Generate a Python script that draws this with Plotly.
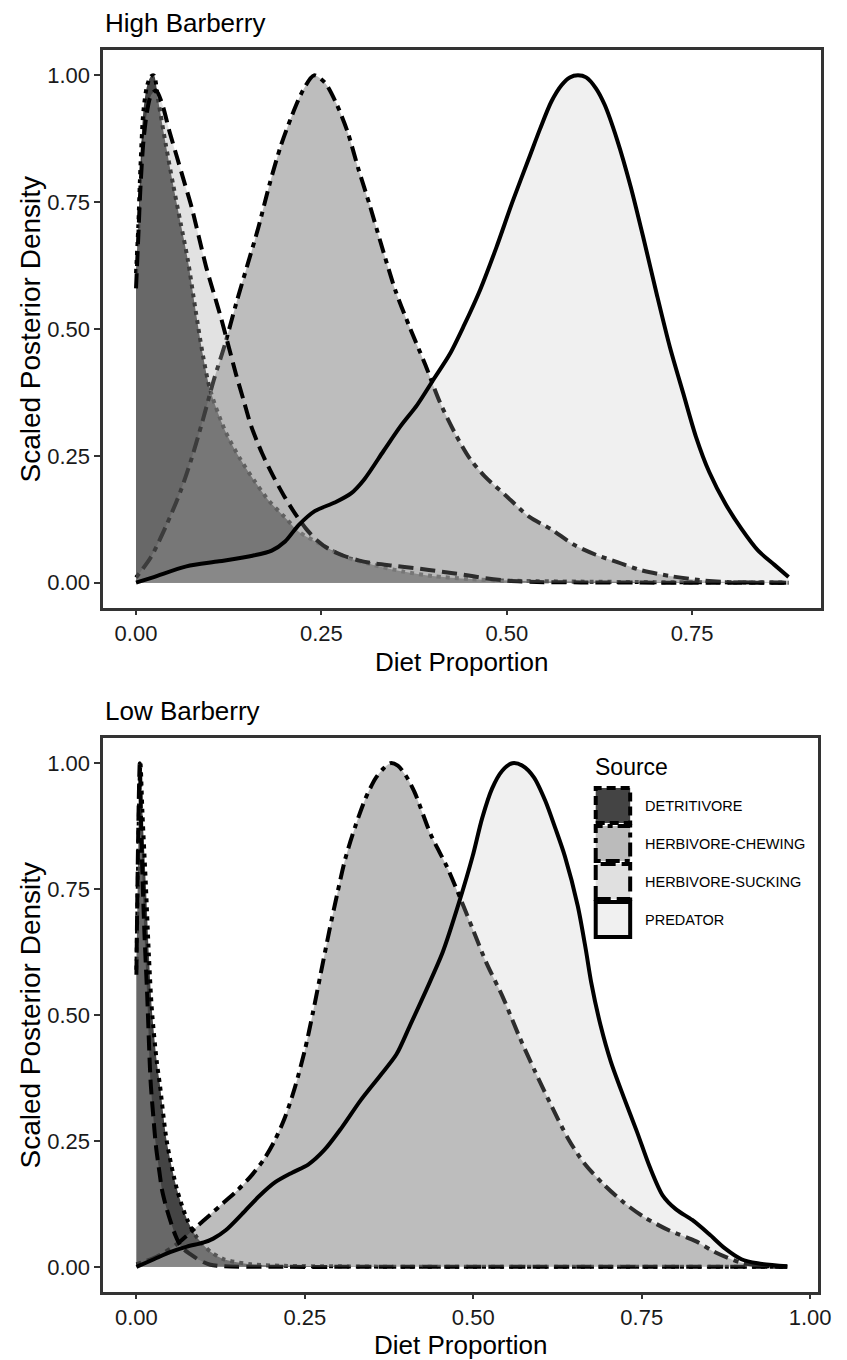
import plotly.graph_objects as go

# ---------------- DATA ----------------
sources = ["DETRITIVORE", "HERBIVORE-CHEWING", "HERBIVORE-SUCKING", "PREDATOR"]
panel_titles = ["High Barberry", "Low Barberry"]
y_ticks = [0, 0.25, 0.5, 0.75, 1.0]
y_ticklabels = ["0.00", "0.25", "0.50", "0.75", "1.00"]
x_ticks_high = [0, 0.25, 0.5, 0.75]
x_ticklabels_high = ["0.00", "0.25", "0.50", "0.75"]
x_ticks_low = [0, 0.25, 0.5, 0.75, 1.0]
x_ticklabels_low = ["0.00", "0.25", "0.50", "0.75", "1.00"]

# High Barberry
det_hi_x = [0, 0.003, 0.006, 0.01, 0.015, 0.02, 0.024, 0.03, 0.04, 0.05, 0.06, 0.07, 0.08, 0.09, 0.10,
            0.12, 0.14, 0.16, 0.18, 0.20, 0.22, 0.25, 0.28, 0.32, 0.36, 0.40, 0.45, 0.50, 0.60, 0.70, 0.80, 0.88]
det_hi_y = [0.61, 0.70, 0.82, 0.93, 0.98, 0.998, 1.0, 0.95, 0.865, 0.785, 0.71, 0.635, 0.54, 0.45, 0.38,
            0.30, 0.245, 0.20, 0.16, 0.13, 0.10, 0.075, 0.052, 0.035, 0.022, 0.013, 0.007, 0.004, 0.002, 0.001, 0.0005, 0.0]

chew_hi_x = [0, 0.02, 0.04, 0.06, 0.075, 0.09, 0.105, 0.12, 0.135, 0.15, 0.165, 0.18, 0.195, 0.21, 0.225,
             0.24, 0.255, 0.27, 0.285, 0.30, 0.315, 0.33, 0.35, 0.37, 0.39, 0.41, 0.43, 0.45, 0.47, 0.50,
             0.53, 0.56, 0.59, 0.62, 0.65, 0.68, 0.72, 0.76, 0.80, 0.88]
chew_hi_y = [0.01, 0.05, 0.11, 0.18, 0.245, 0.32, 0.40, 0.47, 0.55, 0.625, 0.70, 0.785, 0.86, 0.92, 0.97,
             1.0, 0.985, 0.945, 0.89, 0.815, 0.745, 0.67, 0.575, 0.50, 0.43, 0.355, 0.295, 0.245, 0.21, 0.17,
             0.13, 0.105, 0.075, 0.055, 0.04, 0.025, 0.013, 0.005, 0.001, 0.0]

suck_hi_x = [0, 0.003, 0.006, 0.01, 0.015, 0.02, 0.027, 0.035, 0.045, 0.055, 0.065, 0.075, 0.085, 0.095,
             0.105, 0.115, 0.125, 0.135, 0.145, 0.155, 0.17, 0.185, 0.20, 0.215, 0.23, 0.245, 0.26, 0.28,
             0.30, 0.32, 0.35, 0.38, 0.41, 0.44, 0.47, 0.50, 0.55, 0.60, 0.70, 0.80, 0.88]
suck_hi_y = [0.58, 0.68, 0.78, 0.87, 0.93, 0.96, 0.97, 0.945, 0.89, 0.84, 0.79, 0.74, 0.68, 0.62,
             0.57, 0.52, 0.465, 0.41, 0.36, 0.31, 0.255, 0.21, 0.17, 0.135, 0.105, 0.082, 0.066, 0.053,
             0.044, 0.038, 0.033, 0.028, 0.022, 0.016, 0.009, 0.004, 0.001, 0.0005, 0.0, 0.0, 0.0]

pred_hi_x = [0, 0.024, 0.068, 0.112, 0.157, 0.183, 0.201, 0.219, 0.241, 0.268, 0.290, 0.308, 0.334, 0.357,
             0.379, 0.401, 0.423, 0.442, 0.464, 0.486, 0.508, 0.530, 0.545, 0.56, 0.574, 0.585, 0.596,
             0.607, 0.62, 0.632, 0.649, 0.667, 0.685, 0.702, 0.720, 0.738, 0.755, 0.773, 0.795, 0.817,
             0.839, 0.861, 0.880]
pred_hi_y = [0.0, 0.011, 0.032, 0.042, 0.053, 0.063, 0.081, 0.113, 0.141, 0.158, 0.176, 0.204, 0.260, 0.309,
             0.35, 0.40, 0.45, 0.506, 0.577, 0.661, 0.752, 0.837, 0.895, 0.948, 0.981, 0.996, 1.0,
             0.996, 0.975, 0.942, 0.872, 0.781, 0.675, 0.570, 0.464, 0.373, 0.288, 0.218, 0.155, 0.105,
             0.063, 0.035, 0.011]

# Low Barberry
det_lo_x = [0, 0.002, 0.004, 0.006, 0.009, 0.014, 0.0185, 0.023, 0.03, 0.035, 0.045, 0.06, 0.075, 0.09,
            0.11, 0.13, 0.17, 0.22, 0.30, 0.40, 0.60, 0.80, 0.966]
det_lo_y = [0.59, 0.75, 0.92, 1.0, 0.90, 0.76, 0.62, 0.51, 0.41, 0.36, 0.25, 0.155, 0.095, 0.058,
            0.03, 0.015, 0.005, 0.002, 0.001, 0.0, 0.0, 0.0, 0.0]

suck_lo_x = [0, 0.002, 0.004, 0.005, 0.008, 0.012, 0.016, 0.021, 0.025, 0.029, 0.034, 0.038, 0.045, 0.052,
             0.058, 0.064, 0.07, 0.08, 0.09, 0.10, 0.11, 0.13, 0.20, 0.40, 0.60, 0.80, 0.966]
suck_lo_y = [0.58, 0.80, 0.96, 1.0, 0.82, 0.66, 0.54, 0.37, 0.30, 0.24, 0.19, 0.153, 0.115, 0.085,
             0.062, 0.045, 0.035, 0.025, 0.016, 0.009, 0.004, 0.001, 0.0, 0.0, 0.0, 0.0, 0.0]

chew_lo_x = [0, 0.03, 0.06, 0.089, 0.11, 0.13, 0.15, 0.17, 0.19, 0.205, 0.22, 0.235, 0.25, 0.262,
             0.274, 0.286, 0.298, 0.31, 0.325, 0.34, 0.355, 0.367, 0.377, 0.388, 0.40, 0.413, 0.437,
             0.461, 0.481, 0.50, 0.519, 0.544, 0.568, 0.592, 0.617, 0.641, 0.665, 0.694, 0.723, 0.752,
             0.791, 0.830, 0.859, 0.898, 0.93, 0.966]
chew_lo_y = [0.005, 0.02, 0.045, 0.079, 0.104, 0.128, 0.152, 0.18, 0.215, 0.25, 0.295, 0.355, 0.43, 0.505,
             0.585, 0.665, 0.74, 0.81, 0.875, 0.93, 0.97, 0.99, 1.0, 0.995, 0.975, 0.942, 0.858,
             0.794, 0.731, 0.668, 0.605, 0.535, 0.458, 0.387, 0.317, 0.254, 0.205, 0.163, 0.128, 0.100,
             0.072, 0.051, 0.029, 0.008, 0.002, 0.0]

pred_lo_x = [0, 0.026, 0.05, 0.075, 0.099, 0.114, 0.133, 0.157, 0.182, 0.206, 0.231, 0.255, 0.279, 0.304,
             0.333, 0.362, 0.386, 0.406, 0.430, 0.455, 0.479, 0.499, 0.513, 0.528, 0.543, 0.558, 0.573,
             0.59, 0.607, 0.622, 0.636, 0.655, 0.667, 0.675, 0.689, 0.704, 0.723, 0.743, 0.762, 0.781,
             0.801, 0.825, 0.850, 0.874, 0.898, 0.922, 0.966]
pred_lo_y = [0.0, 0.015, 0.029, 0.040, 0.048, 0.056, 0.073, 0.105, 0.14, 0.168, 0.187, 0.203, 0.232, 0.275,
             0.331, 0.380, 0.422, 0.479, 0.549, 0.626, 0.724, 0.815, 0.89, 0.95, 0.985, 1.0, 0.995,
             0.972, 0.925, 0.87, 0.815, 0.717, 0.63, 0.565, 0.479, 0.408, 0.338, 0.268, 0.198, 0.142,
             0.114, 0.093, 0.065, 0.036, 0.015, 0.007, 0.001]

# ---------------- STYLE ----------------
W, H = 847, 1360
FONT = "Liberation Sans, Arial, sans-serif"
fill_col = {
    "DETRITIVORE": "rgba(35,35,35,0.85)",
    "HERBIVORE-CHEWING": "rgba(118,118,118,0.48)",
    "HERBIVORE-SUCKING": "rgba(172,172,172,0.35)",
    "PREDATOR": "rgba(191,191,191,0.235)",
}
key_col = {
    "DETRITIVORE": "#444444",
    "HERBIVORE-CHEWING": "#bbbbbb",
    "HERBIVORE-SUCKING": "#e0e0e0",
    "PREDATOR": "#f0f0f0",
}
dash = {
    "DETRITIVORE": "4px,5px",
    "HERBIVORE-CHEWING": "5px,6px,15px,6px",
    "HERBIVORE-SUCKING": "15px,7px",
    "PREDATOR": "solid",
}
key_dash = {
    "DETRITIVORE": "9px,5px",
    "HERBIVORE-CHEWING": "5px,5px,14px,5px",
    "HERBIVORE-SUCKING": "15px,6px",
    "PREDATOR": "solid",
}
LW = 4

def pxx(x):
    return x / W

def pyy(y):
    return 1 - y / H

panels = [
    ("x", "y", [(det_hi_x, det_hi_y), (chew_hi_x, chew_hi_y), (suck_hi_x, suck_hi_y), (pred_hi_x, pred_hi_y)]),
    ("x2", "y2", [(det_lo_x, det_lo_y), (chew_lo_x, chew_lo_y), (suck_lo_x, suck_lo_y), (pred_lo_x, pred_lo_y)]),
]

fig = go.Figure()
for xa, ya, series in panels:
    for name, (xs, ys) in zip(sources, series):
        fig.add_trace(go.Scatter(
            x=xs, y=ys, xaxis=xa, yaxis=ya, mode="lines", name=name,
            fill="tozeroy", fillcolor=fill_col[name],
            line=dict(color="black", width=LW, dash=dash[name], shape="spline", smoothing=0.8),
            showlegend=False, hoverinfo="skip",
        ))

axis_common = dict(
    showline=True, linecolor="#333333", linewidth=3, mirror=True,
    ticks="outside", tickwidth=2, tickcolor="#333333",
    showgrid=False, zeroline=False,
    tickfont=dict(family=FONT, size=22, color="#1a1a1a"),
)

fig.update_layout(
    width=W, height=H,
    margin=dict(l=0, r=0, t=0, b=0),
    paper_bgcolor="white", plot_bgcolor="white",
    xaxis=dict(domain=[pxx(105), pxx(834)], range=[-0.044, 0.924], anchor="y", ticklen=4,
               tickvals=x_ticks_high, ticktext=x_ticklabels_high, **axis_common),
    yaxis=dict(domain=[pyy(608), pyy(50)], range=[-0.05, 1.05], anchor="x", ticklen=6,
               tickvals=y_ticks, ticktext=y_ticklabels, **axis_common),
    xaxis2=dict(domain=[pxx(105), pxx(831)], range=[-0.049, 1.012], anchor="y2", ticklen=4,
                tickvals=x_ticks_low, ticktext=x_ticklabels_low, **axis_common),
    yaxis2=dict(domain=[pyy(1292), pyy(738)], range=[-0.05, 1.05], anchor="x2", ticklen=6,
                tickvals=y_ticks, ticktext=y_ticklabels, **axis_common),
)

ann = []
# panel titles
ann.append(dict(text=panel_titles[0], x=pxx(105), y=pyy(23), xref="paper", yref="paper",
                xanchor="left", yanchor="middle", showarrow=False, font=dict(family=FONT, size=26, color="black")))
ann.append(dict(text=panel_titles[1], x=pxx(105), y=pyy(711), xref="paper", yref="paper",
                xanchor="left", yanchor="middle", showarrow=False, font=dict(family=FONT, size=26, color="black")))
# axis titles
for cy, cx in [(662, 469), (1345, 468)]:
    ann.append(dict(text="Diet Proportion", x=pxx(cx), y=pyy(cy), xref="paper", yref="paper",
                    xanchor="center", yanchor="middle", showarrow=False,
                    font=dict(family=FONT, size=26, color="black")))
for cy in [329, 1015]:
    ann.append(dict(text="Scaled Posterior Density", x=pxx(30), y=pyy(cy), xref="paper", yref="paper",
                    xanchor="center", yanchor="middle", showarrow=False, textangle=-90,
                    font=dict(family=FONT, size=28, color="black")))

# legend (inside lower panel)
ann.append(dict(text="Source", x=pxx(602), y=pyy(767), xref="paper", yref="paper",
                xanchor="left", yanchor="middle", showarrow=False, font=dict(family=FONT, size=23, color="black")))
shapes = []
key_top = 788
key_size = 35
pitch = 38
for i, name in enumerate(sources):
    t = key_top + i * pitch
    shapes.append(dict(type="rect", xref="paper", yref="paper",
                       x0=pxx(605), x1=pxx(605 + key_size), y0=pyy(t + key_size), y1=pyy(t),
                       fillcolor=key_col[name],
                       line=dict(color="black", width=4, dash=key_dash[name])))
    ann.append(dict(text=name, x=pxx(653), y=pyy(t + key_size / 2), xref="paper", yref="paper",
                    xanchor="left", yanchor="middle", showarrow=False,
                    font=dict(family=FONT, size=14.5, color="black")))

fig.update_layout(annotations=ann, shapes=shapes)
fig.write_html("out.html")
